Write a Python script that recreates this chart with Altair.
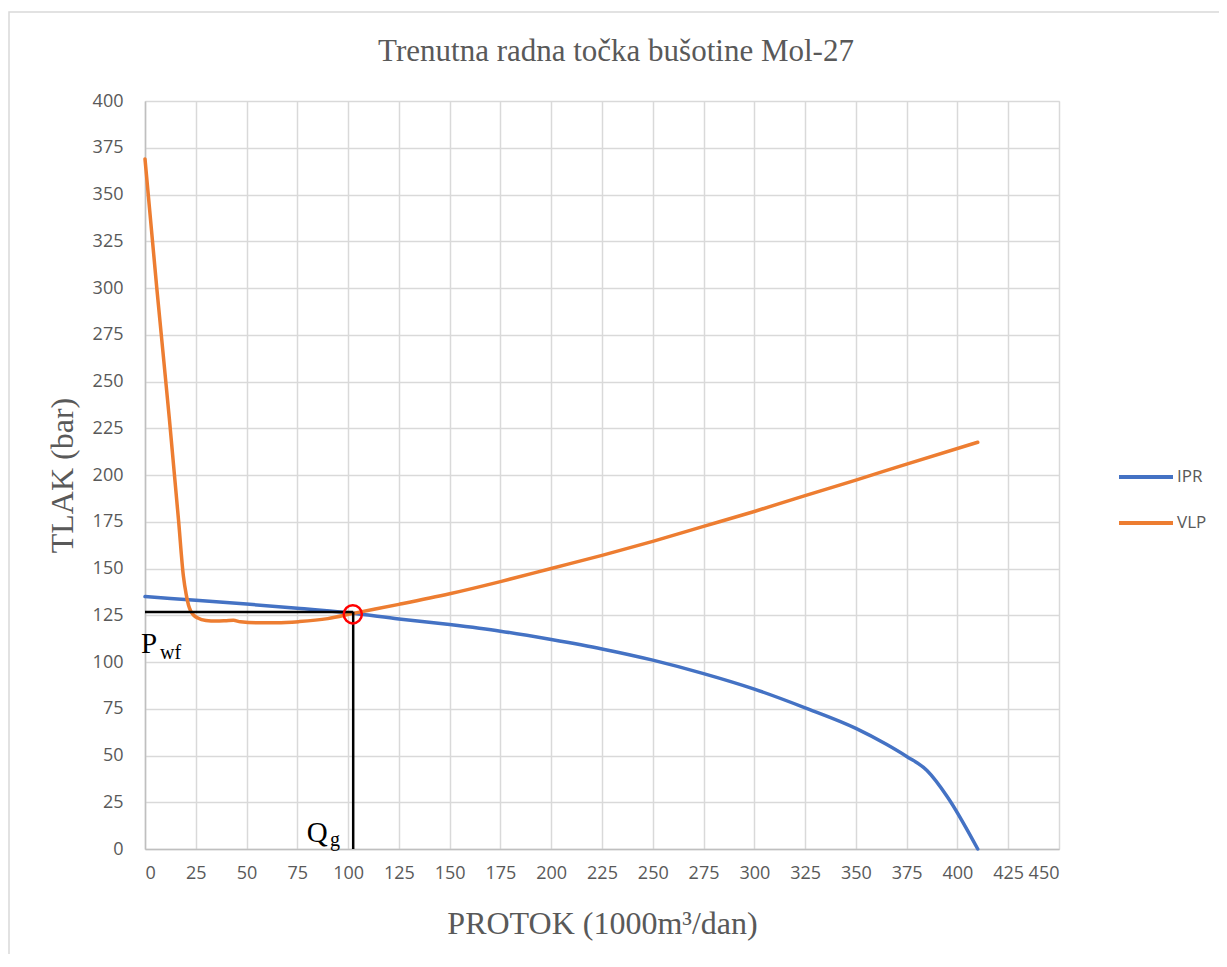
import altair as alt
import pandas as pd

# ---------------- data ----------------
IPR_Q = [0, 25, 50, 75, 100, 125, 150, 175, 200, 225, 250, 275, 300, 325, 350, 365, 375, 385, 395, 410]
IPR_P = [135, 133, 131, 128.8, 126.3, 123, 120, 116.5, 112, 107, 101, 93.8, 85.5, 75.5, 64.5, 56, 49.5, 42, 28, 0]

VLP_Q = [0, 5.8, 12.0, 16.5, 18.9, 20.3, 21.4, 22.5, 24, 26, 30, 35, 40,
         43.5, 47, 55, 65, 76, 90, 102.6, 125, 150, 175, 200, 225, 250, 275, 300, 325, 350, 375, 410]
VLP_P = [369, 300, 230, 176, 146, 136, 130.5, 127.3, 125, 123.5, 122.2, 121.9, 122.1,
         122.3, 121.5, 121, 121, 121.6, 123.2, 126, 130.8, 136.5, 143, 150, 157, 164.5, 172.5, 180.5, 189, 197.3, 205.8, 217.5]

SERIES = ["IPR", "VLP"]
COLORS = ["#4472C4", "#ED7D31"]

X_TICKS = list(range(0, 451, 25))
Y_TICKS = list(range(0, 401, 25))

# operating point
OP_Q = 102.5
OP_P = 126.8
CIRCLE_Q = 102.3
CIRCLE_P = 125.5

TITLE = "Trenutna radna točka bušotine Mol-27"
X_TITLE = "PROTOK (1000m³/dan)"
Y_TITLE = "TLAK (bar)"

# annotation labels
MAIN_LABELS = ["P", "Q"]
MAIN_Q = [-2, 79.6]
MAIN_P = [105, 3.9]
SUB_LABELS = ["wf", "g"]
SUB_Q = [7.4, 91.1]
SUB_P = [101.4, 1.6]

# ---------------- tables ----------------
curves = pd.DataFrame(
    {"q": IPR_Q + VLP_Q,
     "p": IPR_P + VLP_P,
     "series": ["IPR"] * len(IPR_Q) + ["VLP"] * len(VLP_Q)}
)
segments = pd.DataFrame({"q": [0, OP_Q], "p": [OP_P, 0], "q2": [OP_Q, OP_Q], "p2": [OP_P, OP_P]})
circle = pd.DataFrame({"q": [CIRCLE_Q], "p": [CIRCLE_P]})
main_lab = pd.DataFrame({"q": MAIN_Q, "p": MAIN_P, "t": MAIN_LABELS})
sub_lab = pd.DataFrame({"q": SUB_Q, "p": SUB_P, "t": SUB_LABELS})

GREY = "#595959"
SERIF = "Liberation Serif"
SANS = "Open Sans"

xscale = alt.Scale(domain=[0, 450], nice=False, zero=False)
yscale = alt.Scale(domain=[0, 400], nice=False, zero=False)

xaxis = alt.Axis(
    values=X_TICKS, title=X_TITLE, grid=True, ticks=False, tickSize=0,
    labelPadding=15, labelFont=SANS, labelFontSize=18, labelColor=GREY,
    titleFont=SERIF, titleFontSize=32, titleFontWeight="normal", titleColor=GREY,
    titleY=84, titleBaseline="alphabetic",
    domainColor="#bfbfbf", domainWidth=1.5, gridColor="#d9d9d9", gridWidth=1.5,
)
yaxis = alt.Axis(
    values=Y_TICKS, title=Y_TITLE, grid=True, ticks=False, tickSize=0,
    labelPadding=22, labelFont=SANS, labelFontSize=18, labelColor=GREY,
    titleFont=SERIF, titleFontSize=32, titleFontWeight="normal", titleColor=GREY,
    titleX=-73, titleY=374, titleAngle=-90, titleBaseline="alphabetic",
    domainColor="#bfbfbf", domainWidth=1.5, gridColor="#d9d9d9", gridWidth=1.5,
)

frame = alt.Chart(alt.Data(values=[{}])).mark_rect(
    fill="transparent", stroke="#d9d9d9", strokeWidth=1.5
).encode(x=alt.value(-136), y=alt.value(-89), x2=alt.value(1100), y2=alt.value(900))

lines = alt.Chart(curves).mark_line(strokeWidth=3.5, interpolate="monotone", strokeCap="round").encode(
    x=alt.X("q:Q", scale=xscale, axis=xaxis),
    y=alt.Y("p:Q", scale=yscale, axis=yaxis),
    color=alt.Color(
        "series:N",
        scale=alt.Scale(domain=SERIES, range=COLORS),
        legend=alt.Legend(
            title=None, orient="none", legendX=972, legendY=353, padding=0,
            symbolType="stroke", symbolSize=2916, symbolStrokeWidth=4,
            clipHeight=46, rowPadding=0, labelOffset=2,
            labelFont=SANS, labelFontSize=17, labelColor=GREY,
        ),
    ),
    detail="series:N",
)

rules = alt.Chart(segments).mark_rule(color="black", strokeWidth=2.5).encode(
    x="q:Q", y="p:Q", x2="q2:Q", y2="p2:Q"
)

ring = alt.Chart(circle).mark_point(
    shape="circle", filled=False, size=330, strokeWidth=2.5, color="#FF0000", opacity=1
).encode(x="q:Q", y="p:Q")

main_text = alt.Chart(main_lab).mark_text(
    font=SERIF, fontSize=29, color="black", align="left", baseline="alphabetic"
).encode(x="q:Q", y="p:Q", text="t:N")

sub_text = alt.Chart(sub_lab).mark_text(
    font=SERIF, fontSize=20, color="black", align="left", baseline="alphabetic"
).encode(x="q:Q", y="p:Q", text="t:N")

chart = alt.layer(frame, lines, rules, ring, main_text, sub_text).properties(
    width=914,
    height=748,
    title=alt.TitleParams(
        TITLE, font=SERIF, fontSize=31, fontWeight="normal", color=GREY,
        anchor="middle", baseline="alphabetic", offset=-81, dx=14,
    ),
    autosize=alt.AutoSizeParams(type="none"),
    padding={"left": 137, "top": 93, "right": 160, "bottom": 105},
).configure_view(stroke="transparent").configure(background="white")

chart.save("out.html", embed_options={"renderer": "svg", "actions": False})
